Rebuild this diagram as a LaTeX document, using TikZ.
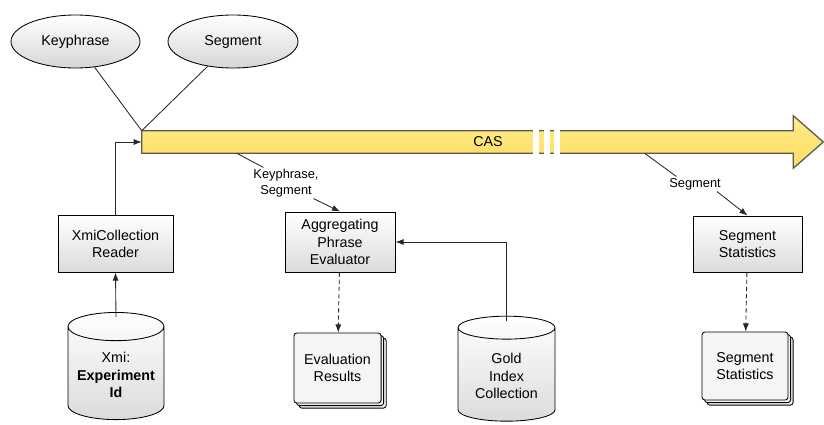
\documentclass[tikz,border=0pt]{standalone}
\usepackage{fontspec}
\setmainfont{Liberation Sans}
\usetikzlibrary{arrows.meta,calc,shapes.geometric,shadows}
\definecolor{casfill}{RGB}{255,236,135}
\definecolor{casdark}{RGB}{252,220,100}
\definecolor{casline}{RGB}{92,90,78}
\definecolor{wire}{RGB}{40,40,40}
\tikzset{
  >={Latex[length=2mm,width=1.5mm]},
  box/.style={draw=black,line width=0.7pt,align=center,inner sep=2pt,
    top color=white,bottom color=black!14},
  blob/.style={ellipse,draw=black,line width=0.6pt,inner sep=1pt,
    top color=white,bottom color=black!16},
  store/.style={cylinder,shape border rotate=90,aspect=0.35,draw=black,
    line width=0.6pt,align=center,inner sep=1pt,top color=white,bottom color=black!14},
  report/.style={draw=black,line width=0.6pt,rounded corners=2pt,align=center,
    fill=black!4,double copy shadow={shadow xshift=1.8pt,shadow yshift=-1.8pt,
    fill=black!6,draw=black,line width=0.6pt}},
  lbl/.style={align=center,inner sep=1pt,font=\small},
  wire/.style={draw=wire,line width=0.6pt},
  arrow/.style={wire,->},
  result/.style={wire,->,dash pattern=on 3pt off 2pt},
}

\begin{document}
\begin{tikzpicture}[x=0.7pt,y=-0.7pt]
  \useasboundingbox (0,0) rectangle (824,424);
  % annotations on top
  \node[blob,minimum width=90.3pt,minimum height=37.1pt] (key) at (75.5,41.5) {Keyphrase};
  \node[blob,minimum width=91pt,minimum height=37.1pt] (seg) at (233,41.5) {Segment};
  % the CAS flow
  \node[inner sep=0pt,minimum width=455.7pt,minimum height=15.4pt] (cas) at (467.5,142) {};
  \path[draw=casline,line width=0.9pt,top color=casfill,bottom color=casdark]
    (cas.north west) -- (cas.north east) -- ($(cas.north east)+(0,-15)$)
    -- ($(cas.east)+(30,0)$) -- ($(cas.south east)+(0,15)$)
    -- (cas.south east) -- (cas.south west) -- cycle;
  \foreach \gx in {533,544,554}
    \fill[white] (\gx,127) rectangle (\gx+6,157);
  \node[inner sep=0pt] (caslbl) at (488,142) {CAS};
  % components
  \node[box,minimum width=80.5pt,minimum height=39.9pt] (reader) at (115.5,243.5) {XmiCollection\\Reader};
  \node[box,minimum width=77pt,minimum height=42pt] (agg) at (340,242) {Aggregating\\Phrase\\Evaluator};
  \node[box,minimum width=76.3pt,minimum height=39.2pt] (segstat) at (747.5,244) {Segment\\Statistics};
  % data
  \node[store,minimum width=67.2pt,minimum height=75pt] (xmi) at (116,375) {Xmi:\\\textbf{Experiment}\\\textbf{Id}};
  \node[store,minimum width=67.9pt,minimum height=73.5pt] (gold) at (506.5,376) {Gold\\Index\\Collection};
  \node[report,minimum width=61pt,minimum height=49pt] (evalres) at (337.5,368) {Evaluation\\Results};
  \node[report,minimum width=60.2pt,minimum height=47.6pt] (segout) at (745,366) {Segment\\Statistics};
  % type labels
  \node[lbl] (kslbl) at (286,183) {Keyphrase,\\Segment};
  \node[lbl] (seglbl) at (695,184) {Segment};
  \coordinate (kstap) at ($(cas.south west)+(95,0)$);
  \coordinate (segtap) at ($(cas.south west)+(503,0)$);
  % connectors
  \draw[wire] (key) -- (cas.north west);
  \draw[wire] (seg) -- (cas.north west);
  \draw[arrow] (reader.north) |- (cas.west);
  \draw[arrow] ([yshift=-3.5pt]xmi.north) -- (reader.south);
  \draw[wire] (kstap) -- ($(kslbl.north west)!0.17!(kslbl.north east)$);
  \draw[arrow] ($(kslbl.south west)!0.9!(kslbl.south east)$) -- (agg.north);
  \draw[wire] (segtap) -- ($(seglbl.north west)!0.16!(seglbl.north east)$);
  \draw[arrow] ($(seglbl.south west)!0.9!(seglbl.south east)$) -- (segstat.north);
  \draw[arrow] ([yshift=-3.5pt]gold.north) |- (agg.east);
  \draw[result] (agg) -- (evalres);
  \draw[result] (segstat) -- (segout);
\end{tikzpicture}
\end{document}
